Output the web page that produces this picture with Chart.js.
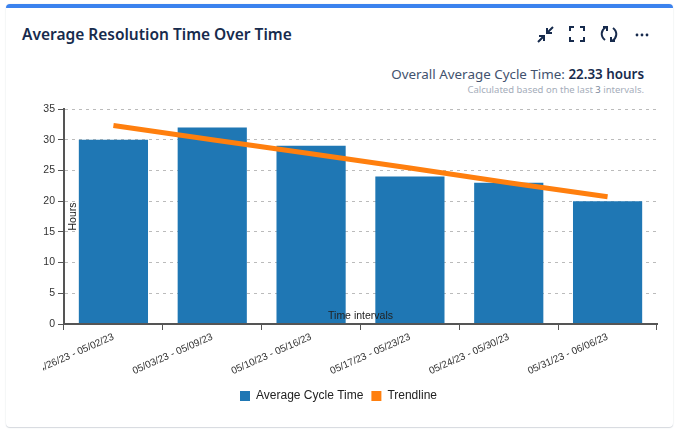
<!DOCTYPE html>
<html>
<head>
<meta charset="utf-8">
<script src="https://cdn.jsdelivr.net/npm/chart.js@4"></script>
<style>
  html, body { margin: 0; padding: 0; background: #fff; }
  body { width: 680px; height: 432px; position: relative; overflow: hidden; font-family: "Noto Sans", sans-serif; }
  #card { position: absolute; left: 6px; top: 4px; width: 667px; height: 423px; box-sizing: border-box; background: #fff;
    border-top: 4px solid #3b82ee; border-radius: 4px; box-shadow: 0 1px 1px #d5d9de, 0 0 2px #e8eaed; }
  #title { position: absolute; left: 22px; top: 23px; font-size: 15.5px; font-weight: 600; color: #172b4d; white-space: nowrap; }
  #overall { position: absolute; right: 36px; top: 65px; font-size: 13.4px; color: #42526e; white-space: nowrap; }
  #overall b { color: #172b4d; font-weight: 600; }
  #note { position: absolute; right: 36px; top: 83px; font-size: 9.5px; color: #a5adba; white-space: nowrap; }
  #note b { color: #7a869a; font-weight: 400; }
  #icons { position: absolute; left: 0; top: 0; }
  #chart { position: absolute; left: 0; top: 0; clip-path: inset(0 0 0 43px); }
</style>
</head>
<body>
<div id="card"></div>
<div id="title">Average Resolution Time Over Time</div>
<svg id="icons" width="680" height="60" fill="none" stroke="#172b4d" stroke-width="2">
  <path d="M538 42l6-6m-5 0h5v5M553 27l-6 6m5 0h-5v-5"/>
  <path d="M570 31v-4h4M580 27h4v4M584 37v4h-4M574 41h-4v-4"/>
  <path d="M605 40c-5-4-4-10 1-13m-3 0h4v4M613 28c5 4 4 10-1 13m3 0h-4v-4"/>
  <g fill="#172b4d" stroke="none"><circle cx="637" cy="35" r="1.4"/><circle cx="642" cy="35" r="1.4"/><circle cx="647" cy="35" r="1.4"/></g>
</svg>
<div id="overall">Overall Average Cycle Time: <b>22.33 hours</b></div>
<div id="note">Calculated based on the last <b>3</b> intervals.</div>
<canvas id="chart" width="680" height="432"></canvas>
<script>
  var intervals = ['04/26/23 - 05/02/23', '05/03/23 - 05/09/23', '05/10/23 - 05/16/23', '05/17/23 - 05/23/23', '05/24/23 - 05/30/23', '05/31/23 - 06/06/23'];
  var cycle_time = [30, 32, 29, 24, 23, 20];
  var trendline = [32.3, 30, 27.7, 25.4, 23, 20.7];

  var axisColor = '#555';
  var tickFont = { family: 'Liberation Sans', size: 10.5 };

  function fixX(scale) {
    scale.height = 58;
    scale.paddingLeft = 0;
    scale.paddingRight = 0;
  }
  function fixY(scale) {
    scale.width = 44;
    scale.paddingTop = 0;
    scale.paddingBottom = 0;
  }
  // the line dataset would otherwise get a thick outline round its legend box
  function legendLabels(chart) {
    var items = Chart.defaults.plugins.legend.labels.generateLabels(chart);
    items.forEach(function (item) { item.lineWidth = 0; });
    return items;
  }

  new Chart(document.getElementById('chart').getContext('2d'), {
    data: {
      labels: intervals,
      datasets: [{
        type: 'bar',
        label: 'Average Cycle Time',
        data: cycle_time,
        order: 1,
        backgroundColor: '#1f77b4',
        barPercentage: 0.7,
        categoryPercentage: 1
      }, {
        type: 'line',
        label: 'Trendline',
        data: trendline,
        order: 0,
        borderColor: '#ff7f0e',
        backgroundColor: '#ff7f0e',
        borderWidth: 5,
        pointRadius: 0,
        tension: 0
      }]
    },
    options: {
      responsive: false,
      animation: false,
      layout: { padding: { top: 109, right: 23, bottom: 20, left: 20 } },
      plugins: {
        tooltip: { enabled: false },
        legend: {
          position: 'bottom',
          labels: {
            boxWidth: 10, boxHeight: 10, padding: 8, color: '#222',
            font: { family: 'Liberation Sans', size: 12 },
            sort: function (a, b) { return a.datasetIndex - b.datasetIndex; },
            generateLabels: legendLabels
          }
        }
      },
      scales: {
        x: {
          afterFit: fixX,
          grid: { z: 1, drawOnChartArea: false, tickColor: axisColor, tickLength: 6, tickWidth: 1 },
          border: { color: axisColor, width: 2, z: 1 },
          ticks: { z: 1, color: '#333', font: { family: 'Liberation Sans', size: 10 }, minRotation: 24, maxRotation: 24, autoSkip: false, padding: 1 },
          title: { display: true, text: 'Time intervals', color: '#222', font: tickFont, padding: { top: 0, bottom: 60 } }
        },
        y: {
          min: 0,
          max: 35,
          afterFit: fixY,
          grid: { color: '#bbb', tickColor: axisColor, tickLength: 6, tickBorderDash: [], tickWidth: 1 },
          border: { color: axisColor, width: 2, dash: [3, 4], z: 1 },
          ticks: { z: 1, stepSize: 5, color: '#333', font: tickFont, padding: 3 },
          title: { display: true, text: 'Hours', color: '#222', font: tickFont, padding: { top: 47, bottom: 0 } }
        }
      }
    }
  });
</script>
</body>
</html>
